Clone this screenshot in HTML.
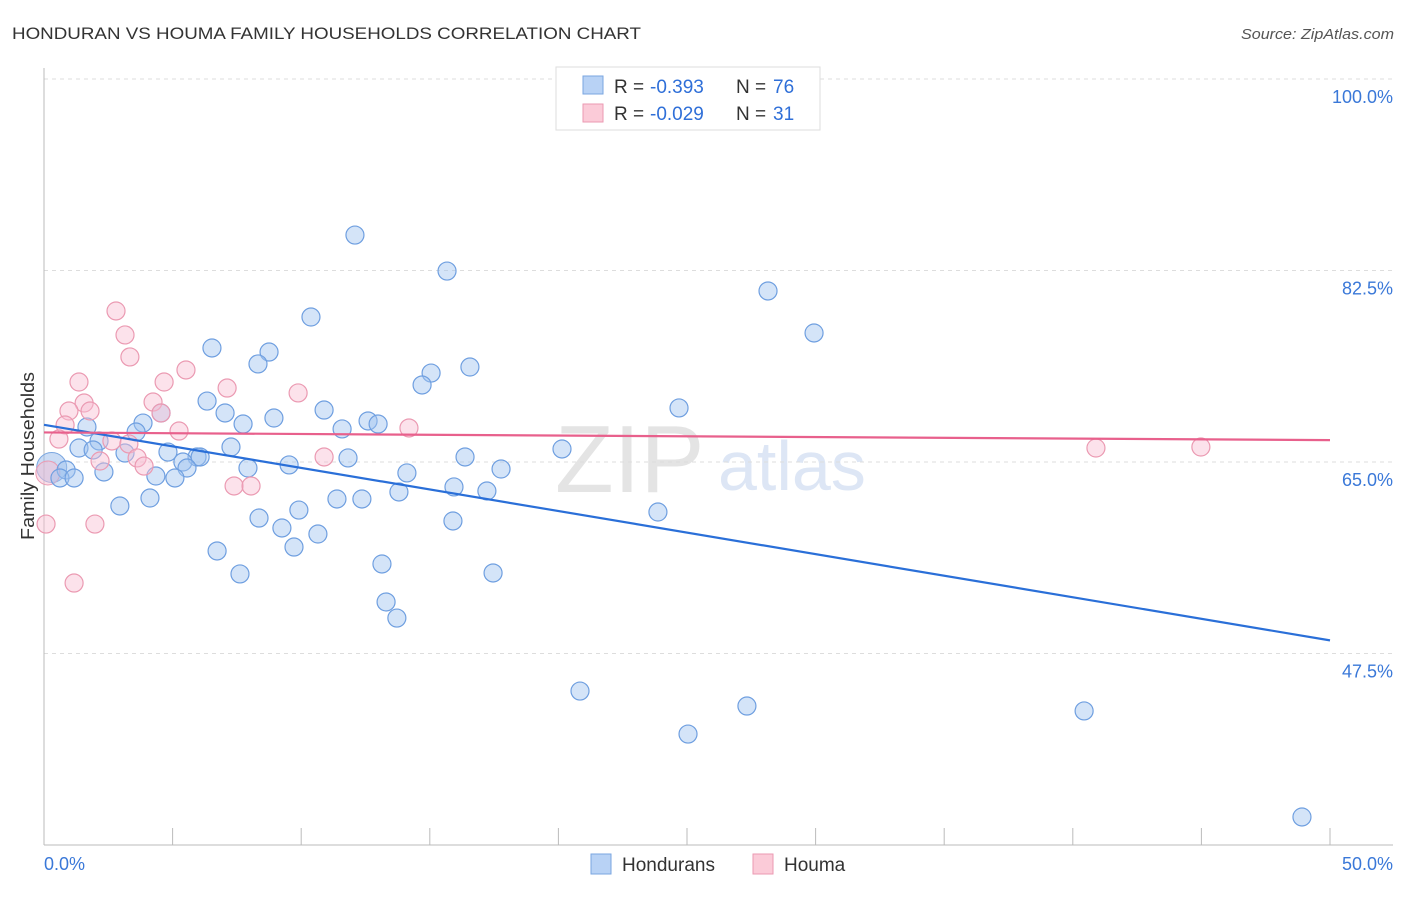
<!DOCTYPE html>
<html><head><meta charset="utf-8"><style>
body{margin:0;background:#fff;font-family:"Liberation Sans",sans-serif;}
svg text{font-family:"Liberation Sans",sans-serif;}
</style></head><body>
<svg id="c" width="1406" height="892">
<text x="12" y="39" font-size="17" fill="#333" textLength="629" lengthAdjust="spacingAndGlyphs">HONDURAN VS HOUMA FAMILY HOUSEHOLDS CORRELATION CHART</text>
<text x="1241" y="39" font-size="15" fill="#555" font-style="italic" textLength="153" lengthAdjust="spacingAndGlyphs">Source: ZipAtlas.com</text>
<text x="34" y="456" font-size="18" fill="#333" transform="rotate(-90 34 456)" text-anchor="middle" textLength="168" lengthAdjust="spacingAndGlyphs">Family Households</text>
<text x="555" y="492" font-size="96" fill="#e4e4e4" font-family="Liberation Serif">ZIP</text>
<text x="718" y="490" font-size="70" fill="#dde6f5">atlas</text>
<g id="grid"></g><g id="pts"></g><g id="lines"></g>
<g>
<rect x="556" y="67" width="264" height="63" fill="#fff" stroke="#ddd"/>
<rect x="583" y="76" width="20" height="18" fill="#b8d2f5" stroke="#7aa6e0"/>
<rect x="583" y="104" width="20" height="18" fill="#fbcbd8" stroke="#eb9ab2"/>
<g font-size="19" fill="#333">
<text x="614" y="93">R =</text>
<text x="650" y="93" fill="#2f6fd8">-0.393</text>
<text x="736" y="93">N =</text>
<text x="773" y="93" fill="#2f6fd8">76</text>
<text x="614" y="120">R =</text>
<text x="650" y="120" fill="#2f6fd8">-0.029</text>
<text x="736" y="120">N =</text>
<text x="773" y="120" fill="#2f6fd8">31</text>
</g>
</g>
<g>
<rect x="591" y="854" width="20" height="20" fill="#b8d2f5" stroke="#7aa6e0"/>
<text x="622" y="871" font-size="19" fill="#333">Hondurans</text>
<rect x="753" y="854" width="20" height="20" fill="#fbcbd8" stroke="#eb9ab2"/>
<text x="784" y="871" font-size="19" fill="#333">Houma</text>
</g>
</svg>
<script>
const yTicks=[100,82.5,65,47.5];
const xTickLabels=["0.0%","50.0%"];
const bluePx=[[355,235],[447,271],[768,291],[311,317],[814,333],[212,348],[269,352],[258,364],[431,373],[470,367],[422,385],[207,401],[161,413],[225,413],[274,418],[324,410],[679,408],[143,423],[243,424],[368,421],[378,424],[342,429],[87,427],[136,432],[99,441],[79,448],[93,450],[125,453],[168,452],[231,447],[562,449],[197,457],[200,457],[183,462],[187,468],[248,468],[289,465],[348,458],[465,457],[407,473],[501,469],[66,470],[60,478],[74,478],[104,472],[156,476],[175,478],[454,487],[399,492],[487,491],[150,498],[337,499],[362,499],[120,506],[299,510],[658,512],[259,518],[453,521],[282,528],[318,534],[217,551],[294,547],[382,564],[240,574],[493,573],[386,602],[397,618],[580,691],[747,706],[688,734],[1084,711],[1302,817]];
const pinkPx=[[116,311],[125,335],[130,357],[79,382],[164,382],[186,370],[227,388],[298,393],[84,403],[153,402],[69,411],[90,411],[161,413],[65,425],[179,431],[59,439],[409,428],[112,441],[129,444],[137,458],[100,461],[144,466],[324,457],[234,486],[251,486],[46,524],[95,524],[74,583],[1096,448],[1201,447]];
const honduransX=bluePx.map(p=>+((p[0]-44)/1286*50).toFixed(2));
const honduransY=bluePx.map(p=>+(100-(p[1]-79)/10.943).toFixed(2));
const houmaX=pinkPx.map(p=>+((p[0]-44)/1286*50).toFixed(2));
const houmaY=pinkPx.map(p=>+(100-(p[1]-79)/10.943).toFixed(2));
const blueTrend=[[0,68.4],[50,48.7]];
const pinkTrend=[[0,67.7],[50,67.0]];
const X=v=>44+v/50*1286, Y=v=>79+(100-v)*10.943;
const NS="http://www.w3.org/2000/svg";
function mk(t,a,p){const e=document.createElementNS(NS,t);for(const k in a)e.setAttribute(k,a[k]);p.appendChild(e);return e;}
const g=document.getElementById('grid');
yTicks.forEach(v=>{
 const l=mk('line',{x1:44,x2:1393,y1:Y(v),y2:Y(v),stroke:'#ddd','stroke-dasharray':'4,4'},g);
 
 
 const t=mk('text',{x:1393,y:Y(v)+24,'font-size':18,fill:'#3a78d8','text-anchor':'end'},g);t.textContent=v.toFixed(1)+'%';
 
 
});
mk('line',{x1:44,x2:44,y1:68,y2:845,stroke:'#bbb'},g);
mk('line',{x1:44,x2:1393,y1:845,y2:845,stroke:'#bbb'},g);
for(let i=0;i<=10;i++){mk('line',{x1:X(i*5),x2:X(i*5),y1:828,y2:845,stroke:'#bbb'},g);}
const t0=mk('text',{x:44,y:870,'font-size':18,fill:'#3a78d8'},g);t0.textContent=xTickLabels[0];


const t1=mk('text',{x:1393,y:870,'font-size':18,fill:'#3a78d8','text-anchor':'end'},g);t1.textContent=xTickLabels[1];


const P=document.getElementById('pts');
let b=mk('circle',{cx:X(0.3),cy:Y(64.5),r:15,fill:'rgba(150,185,235,0.5)',stroke:'#7aa6e0'},P);


let pk=mk('circle',{cx:X(0.15),cy:Y(64.0),r:12,fill:'rgba(248,190,210,0.5)',stroke:'#eb9ab2'},P);


honduransX.forEach((x,i)=>{const c=mk('circle',{cx:X(x),cy:Y(honduransY[i]),r:9,fill:'rgba(160,195,240,0.45)',stroke:'#6f9fe0','stroke-width':1.2},P);
 
 });
houmaX.forEach((x,i)=>{const c=mk('circle',{cx:X(x),cy:Y(houmaY[i]),r:9,fill:'rgba(248,190,210,0.45)',stroke:'#eb9ab2','stroke-width':1.2},P);
 
 });
const L=document.getElementById('lines');
const bl=mk('line',{x1:X(blueTrend[0][0]),y1:Y(blueTrend[0][1]),x2:X(blueTrend[1][0]),y2:Y(blueTrend[1][1]),stroke:'#2a6fd8','stroke-width':2.2},L);


const pl=mk('line',{x1:X(pinkTrend[0][0]),y1:Y(pinkTrend[0][1]),x2:X(pinkTrend[1][0]),y2:Y(pinkTrend[1][1]),stroke:'#e8608c','stroke-width':2.2},L);


</script>
</body></html>
